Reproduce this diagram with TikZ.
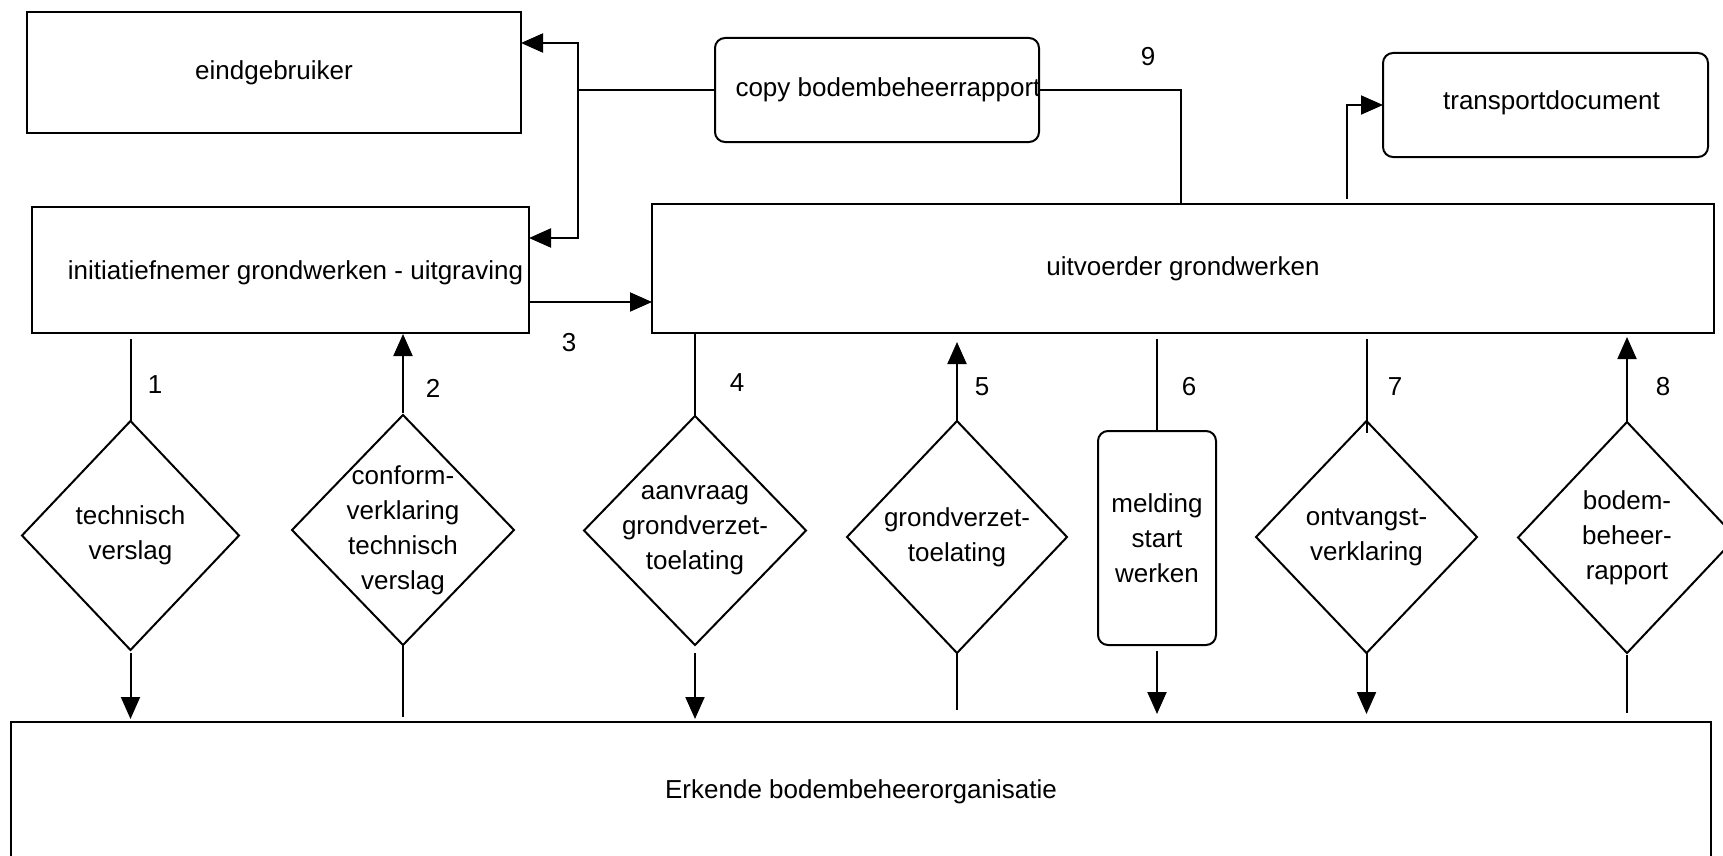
\documentclass[tikz,border=0pt]{standalone}
\usepackage{fontspec}
\setmainfont{Liberation Sans}
\usetikzlibrary{shapes.geometric,arrows.meta,calc}
\begin{document}
\begin{tikzpicture}[x=0.5pt,y=-0.5pt,
  every node/.style={font=\fontsize{13pt}{17.5pt}\selectfont, inner sep=0pt, outer sep=0pt},
  box/.style={draw, line width=1pt, rectangle},
  rbox/.style={box, rounded corners=5pt},
  dia/.style={draw, line width=1pt, diamond},
  ln/.style={line width=1pt},
  arr/.style={line width=1pt, -{Triangle[length=11pt,width=9.5pt]}}]
\useasboundingbox (0,0) rectangle (1723,856);
\clip (0,0) rectangle (1723,856);

% boxes
\node[box, minimum width=247pt, minimum height=60.5pt] (eind) at (274,72.5) {eindgebruiker};
\node[box, minimum width=248.5pt, minimum height=63pt,
  label={[xshift=7.5pt,yshift=-1.5pt]center:initiatiefnemer grondwerken - uitgraving}] (init) at (280.5,270) {};
\node[rbox, minimum width=162pt, minimum height=52pt,
  label={[xshift=5.5pt]center:copy bodembeheerrapport}] (copy) at (877,90) {};
\node[rbox, minimum width=162.5pt, minimum height=52pt,
  label={[xshift=3pt,yshift=1pt]center:transportdocument}] (transport) at (1545.5,105) {};
\node[box, minimum width=531pt, minimum height=64.5pt] (uitv) at (1183,268.5) {uitvoerder grondwerken};
\node[box, line width=1.3pt, minimum width=850pt, minimum height=70pt] (erk) at (861,792) {Erkende bodembeheerorganisatie};
\node[rbox, minimum width=59pt, minimum height=107pt, align=center] (mel) at (1157,538) {melding\\start\\werken};

% diamonds
\node[dia, minimum width=108.5pt, minimum height=114.5pt,
  label={[align=center]center:{technisch\\verslag}}] (d1) at (130.5,535.5) {};
\node[dia, minimum width=111pt, minimum height=115pt,
  label={[align=center]center:{conform-\\verklaring\\technisch\\verslag}}] (d2) at (403,530) {};
\node[dia, minimum width=111pt, minimum height=114.5pt,
  label={[align=center]center:{aanvraag\\grondverzet-\\toelating}}] (d3) at (695,530.5) {};
\node[dia, minimum width=110pt, minimum height=116pt,
  label={[align=center]center:{grondverzet-\\toelating}}] (d5) at (957,537) {};
\node[dia, minimum width=110.5pt, minimum height=116pt,
  label={[align=center]center:{ontvangst-\\verklaring}}] (d7) at (1366.5,537) {};
\node[dia, minimum width=109pt, minimum height=115.5pt,
  label={[align=center]center:{bodem-\\beheer-\\rapport}}] (d8) at (1627,537.5) {};

% numbers
\node (n1) at (155,385) {1};
\node (n2) at (433,388) {2};
\node (n3) at (569,343) {3};
\node (n4) at (737,383) {4};
\node (n5) at (982,387) {5};
\node (n6) at (1189,387) {6};
\node (n7) at (1395,387) {7};
\node (n8) at (1663,387) {8};
\node (n9) at (1148,57) {9};

% 1
\draw[ln] (d1.north) -- ([yshift=-3pt]d1.north |- init.south);
\draw[arr] ([yshift=-1.5pt]d1.south) -- ([yshift=1.5pt]d1.south |- erk.north);
% 2
\draw[arr] ([yshift=1pt]d2.north) -- ([yshift=-0.5pt]d2.north |- init.south);
\draw[ln] (d2.south) -- ([yshift=2.5pt]d2.south |- erk.north);
% 3
\draw[arr] (init.east |- 0,302) -- (uitv.west |- 0,302);
% 4
\draw[ln] ([yshift=-0.5pt]d3.north |- uitv.south) -- (d3.north);
\draw[arr] ([yshift=-4pt]d3.south) -- ([yshift=1.5pt]d3.south |- erk.north);
% 5
\draw[arr] (d5.north) -- ([yshift=-4.5pt]d5.north |- uitv.south);
\draw[ln] (d5.south) -- ([yshift=6pt]d5.south |- erk.north);
% 6
\draw[ln] ([yshift=-3pt]mel.north |- uitv.south) -- (mel.north);
\draw[arr] ([yshift=-3pt]mel.south) -- ([yshift=4pt]mel.south |- erk.north);
% 7
\draw[ln] ([yshift=-3pt]d7.north |- uitv.south) -- ([yshift=-6pt]d7.north);
\draw[arr] (d7.south) -- ([yshift=4pt]d7.south |- erk.north);
% 8
\draw[arr] (d8.north) -- ([yshift=-2pt]d8.north |- uitv.south);
\draw[ln] ([yshift=-1pt]d8.south) -- ([yshift=4.5pt]d8.south |- erk.north);
% 9
\coordinate (k9) at (1181,90);
\draw[ln] (copy.east) -- (k9) -- (k9 |- uitv.north);
% transport
\coordinate (kt) at (1347,104);
\draw[arr] ([yshift=2.5pt]kt |- uitv.north) |- (transport.west);
% copy to eindgebruiker / initiatiefnemer
\coordinate (j) at (578,90);
\draw[ln] (copy.west) -- (j);
\draw[arr] (j) |- (eind.east |- 0,43);
\draw[arr] (j) |- (init.east |- 0,238);
\end{tikzpicture}
\end{document}
